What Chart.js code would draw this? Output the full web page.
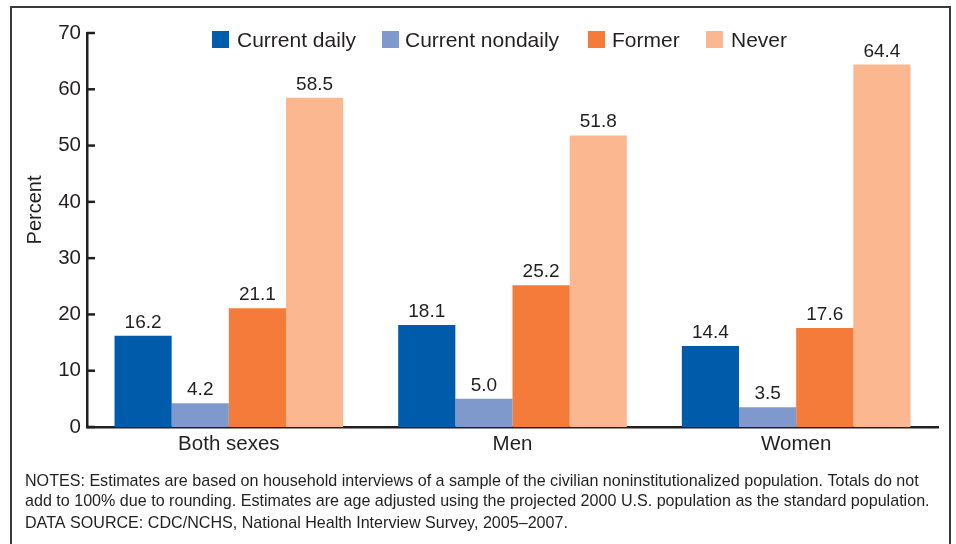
<!DOCTYPE html>
<html><head><meta charset="utf-8">
<script src="https://cdn.jsdelivr.net/npm/chart.js@4/dist/chart.umd.min.js"></script>
<style>
html,body{margin:0;padding:0;background:#fff;}
#wrap{position:relative;width:956px;height:544px;}
#frame{position:absolute;left:10px;top:6px;width:941px;height:560px;border:2px solid #3a3a3a;box-sizing:border-box;}
canvas{position:absolute;left:0;top:0;}
</style></head>
<body><div id="wrap"><div id="frame"></div><canvas id="c" width="956" height="544"></canvas></div>
<script>
const categories = ["Both sexes", "Men", "Women"];
const seriesNames = ["Current daily", "Current nondaily", "Former", "Never"];
const currentDaily = [16.2, 18.1, 14.4];
const currentNondaily = [4.2, 5.0, 3.5];
const former = [21.1, 25.2, 17.6];
const never = [58.5, 51.8, 64.4];
const yTicks = [0, 10, 20, 30, 40, 50, 60, 70];
const yTitle = "Percent";
const notes = [
  "NOTES: Estimates are based on household interviews of a sample of the civilian noninstitutionalized population. Totals do not",
  "add to 100% due to rounding. Estimates are age adjusted using the projected 2000 U.S. population as the standard population.",
  "DATA SOURCE: CDC/NCHS, National Health Interview Survey, 2005\u20132007."
];
const colors = ["#005BAA", "#7F99CC", "#F47B3A", "#FBB890"];
const TXT = "#231f20";
const FONT = "'Liberation Sans', Arial, Helvetica, sans-serif";

const seriesValues = [currentDaily, currentNondaily, former, never];

const extras = {
  id: 'extras',
  afterDatasetsDraw(chart) {
    const ctx = chart.ctx;
    const y = chart.scales.y;
    ctx.save();
    // inward ticks
    ctx.strokeStyle = TXT; ctx.lineWidth = 2.5;
    yTicks.forEach(v => {
      const py = y.getPixelForValue(v);
      ctx.beginPath(); ctx.moveTo(y.right, py); ctx.lineTo(y.right + 8, py); ctx.stroke();
    });
    // y title
    ctx.save();
    ctx.translate(35, 210); ctx.rotate(-Math.PI / 2);
    ctx.fillStyle = TXT; ctx.font = "20px " + FONT; ctx.textAlign = "center"; ctx.textBaseline = "middle";
    ctx.fillText(yTitle, 0, 0);
    ctx.restore();
    // value labels
    ctx.fillStyle = TXT; ctx.font = "19px " + FONT; ctx.textAlign = "center"; ctx.textBaseline = "alphabetic";
    chart.data.datasets.forEach((ds, i) => {
      chart.getDatasetMeta(i).data.forEach((bar, j) => {
        ctx.fillText(ds.data[j].toFixed(1), bar.x, bar.y - 8);
      });
    });
    // legend
    const items = [[212, 237], [382, 405], [588, 612], [706, 731]];
    ctx.font = "21px " + FONT; ctx.textAlign = "left"; ctx.textBaseline = "middle";
    seriesNames.forEach((n, i) => {
      ctx.fillStyle = colors[i];
      ctx.fillRect(items[i][0], 31, 17, 17);
      ctx.fillStyle = TXT;
      ctx.fillText(n, items[i][1], 41.5);
    });
    // notes
    ctx.font = "16.1px " + FONT; ctx.textBaseline = "alphabetic";
    ctx.fillText(notes[0], 25, 486);
    ctx.fillText(notes[1], 25, 506);
    ctx.fillText(notes[2], 25, 528);
    ctx.restore();
  }
};

new Chart(document.getElementById('c'), {
  type: 'bar',
  data: {
    labels: categories,
    datasets: seriesNames.map((n, i) => ({
      label: n, data: seriesValues[i], backgroundColor: colors[i],
      borderWidth: 0, categoryPercentage: 0.806, barPercentage: 1.0
    }))
  },
  options: {
    responsive: false, animation: false,
    layout: { padding: { left: 0, right: 18, top: 33, bottom: 87 } },
    plugins: { legend: { display: false }, tooltip: { enabled: false } },
    scales: {
      x: {
        grid: { display: false, drawTicks: false },
        border: { display: true, color: TXT, width: 2.5 },
        ticks: { color: TXT, font: { family: FONT, size: 20.5 }, padding: 5 },
        afterFit(s) { s.height = 30; }
      },
      y: {
        min: 0, max: 70,
        afterBuildTicks(s) { s.ticks = yTicks.map(v => ({ value: v })); },
        grid: { display: false, drawTicks: false },
        border: { display: true, color: TXT, width: 2.5 },
        ticks: { color: TXT, font: { family: FONT, size: 20.5 }, padding: 6 },
        afterFit(s) { s.width = 87; }
      }
    }
  },
  plugins: [extras]
});
</script></body></html>
